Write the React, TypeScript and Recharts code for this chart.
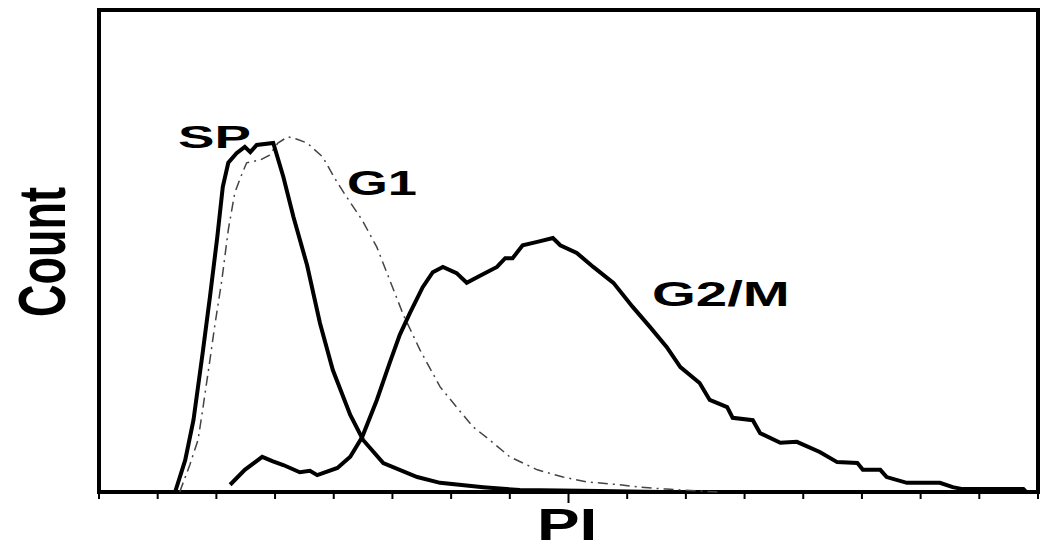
import { LineChart, Line, XAxis, YAxis, ReferenceArea } from "recharts";

// PI channel (0-1024) and cell count
const spChannel = [83, 94, 103, 113, 121, 129, 135, 141, 150, 159, 165, 172, 190, 201, 212, 227, 241, 255, 274, 288, 310, 347, 372, 419, 459, 546, 612];
const spCount = [0, 6.6, 14.9, 28.8, 40.5, 52.9, 63.3, 68.3, 70.3, 71.6, 70.5, 72.0, 72.4, 65.4, 57.1, 47, 35, 25.3, 16, 10.8, 6.0, 3.1, 1.9, 1.0, 0.4, 0.2, 0];

const g1Channel = [88, 99, 108, 113, 121, 126, 134, 141, 148, 154, 161, 176, 186, 195, 206, 216, 227, 244, 257, 268, 287, 303, 317, 332, 350, 372, 390, 408, 426, 448, 478, 506, 532, 568, 590, 619, 655, 677];
const g1Count = [0, 5.6, 10.8, 17.0, 27.4, 34.2, 44.0, 54.4, 62.0, 65.1, 68.3, 68.9, 69.9, 72.4, 73.7, 73.2, 72.4, 69.5, 65.1, 61.8, 56.4, 50.8, 44.0, 36.7, 29.5, 21.8, 17.6, 13.5, 10.8, 7.3, 4.6, 3.1, 2.1, 1.5, 1.0, 0.6, 0.2, 0];

const g2mChannel = [143, 159, 178, 189, 201, 219, 230, 238, 260, 274, 287, 303, 317, 328, 339, 353, 364, 375, 390, 401, 415, 434, 443, 451, 462, 478, 495, 503, 521, 539, 561, 582, 601, 619, 634, 655, 666, 685, 691, 713, 721, 743, 761, 786, 805, 827, 833, 852, 859, 881, 917, 931, 942, 1008, 1011];
const g2mCount = [1.5, 4.6, 7.3, 6.4, 5.6, 4.1, 4.4, 3.5, 5.0, 7.3, 11.4, 19.1, 26.8, 32.6, 37.1, 42.5, 45.6, 46.7, 45.4, 43.4, 44.8, 46.7, 48.5, 48.5, 51.2, 51.9, 52.7, 51.2, 49.6, 46.7, 43.4, 38.4, 34.2, 30.1, 25.9, 22.6, 19.1, 17.6, 15.4, 14.9, 12.2, 10.2, 10.4, 8.3, 6.2, 6.0, 4.6, 4.6, 3.1, 1.9, 1.9, 1.0, 0.6, 0.6, 0];

const xTicks = [0, 64, 128, 192, 256, 320, 384, 448, 512, 576, 640, 704, 768, 832, 896, 960, 1024];
const majorTick = 512;

const toPoints = (ch: number[], cnt: number[]) =>
  ch.map((c, i) => ({ ch: c, count: cnt[i] }));

const spData = toPoints(spChannel, spCount);
const g1Data = toPoints(g1Channel, g1Count);
const g2mData = toPoints(g2mChannel, g2mCount);

const font = '"Liberation Sans", Arial, sans-serif';

// tick mark only, no label
function TickMark(props: any) {
  const { x, y, payload } = props;
  const len = payload.value === majorTick ? 11 : 7;
  return <line x1={x} x2={x} y1={y - 2} y2={y - 2 + len} stroke="#000" strokeWidth={2} />;
}

export default function App() {
  return (
    <div style={{ position: "absolute", left: 0, top: 0, width: 1050, height: 554 }}>
      <LineChart
        width={1050}
        height={554}
        margin={{ top: 10, right: 12, bottom: 42, left: 99 }}
      >
        <XAxis
          type="number"
          dataKey="ch"
          domain={[0, 1024]}
          ticks={xTicks}
          interval={0}
          tick={<TickMark />}
          tickSize={0}
          height={20}
          axisLine={false}
          tickLine={false}
          allowDuplicatedCategory={false}
        />
        <YAxis domain={[0, 100]} hide />
        <ReferenceArea
          x1={0}
          x2={1024}
          y1={0}
          y2={100}
          fill="none"
          stroke="#000"
          strokeWidth={4}
          ifOverflow="visible"
        />
        <Line
          data={g1Data}
          dataKey="count"
          type="linear"
          stroke="#444"
          strokeWidth={1.5}
          strokeDasharray="10 5 2 5"
          dot={false}
          isAnimationActive={false}
        />
        <Line
          data={spData}
          dataKey="count"
          type="linear"
          stroke="#000"
          strokeWidth={4}
          dot={false}
          isAnimationActive={false}
        />
        <Line
          data={g2mData}
          dataKey="count"
          type="linear"
          stroke="#000"
          strokeWidth={4}
          dot={false}
          isAnimationActive={false}
        />
      </LineChart>
      <svg
        width={1050}
        height={554}
        style={{ position: "absolute", left: 0, top: 0, pointerEvents: "none" }}
      >
        <g fontFamily={font} fontWeight="bold" fill="#000">
          <text transform="translate(178,148) scale(1.71,1)" fontSize={32}>SP</text>
          <text transform="translate(347,195) scale(1.5,1)" fontSize={35}>G1</text>
          <text transform="translate(652,306) scale(1.61,1)" fontSize={35}>G2/M</text>
          <text transform="translate(537,540) scale(1.42,1)" fontSize={45}>PI</text>
          <text transform="translate(65,317) scale(1.5,1) rotate(-90)" fontSize={45}>Count</text>
        </g>
      </svg>
    </div>
  );
}
